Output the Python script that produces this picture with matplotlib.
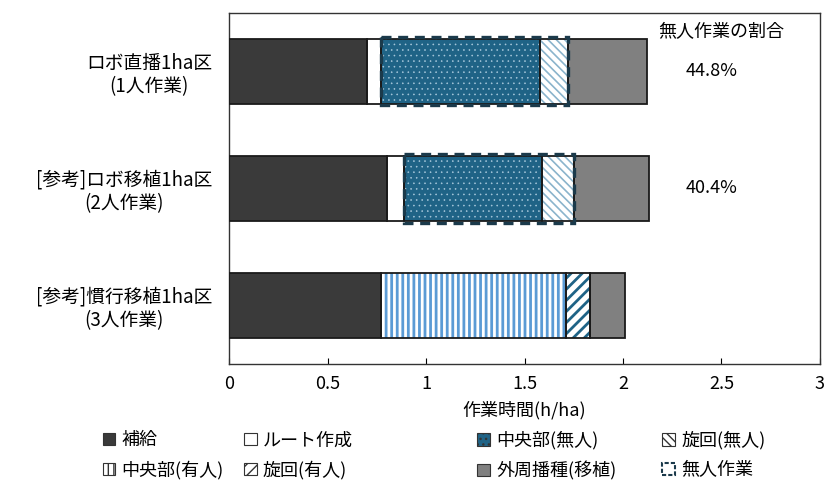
import matplotlib
matplotlib.use("Agg")
import matplotlib.pyplot as plt
from matplotlib.patches import Rectangle, Patch
import numpy as np

plt.rcParams['font.family'] = ['Noto Sans CJK JP', 'DejaVu Sans']

# categories (top to bottom)
categories = ["ロボ直播1ha区\n(1人作業)", "[参考]ロボ移植1ha区\n(2人作業)", "[参考]慣行移植1ha区\n(3人作業)"]

# work time per component (h/ha)
hokyu = [0.70, 0.80, 0.77]            # 補給
route = [0.07, 0.09, 0.00]            # ルート作成
center_unmanned = [0.81, 0.70, 0.00]  # 中央部(無人)
turn_unmanned = [0.14, 0.16, 0.00]    # 旋回(無人)
center_manned = [0.00, 0.00, 0.94]    # 中央部(有人)
turn_manned = [0.00, 0.00, 0.12]      # 旋回(有人)
outer = [0.40, 0.38, 0.18]            # 外周播種(移植)

unmanned_share = ["44.8%", "40.4%", None]

series = [
    ("補給", hokyu, dict(fc="#3a3a3a", hatch=None, hc=None, hlw=1)),
    ("ルート作成", route, dict(fc="white", hatch=None, hc=None, hlw=1)),
    ("中央部(無人)", center_unmanned, dict(fc="#1f6386", hatch="...", hc="#a9c9dc", hlw=0.4)),
    ("旋回(無人)", turn_unmanned, dict(fc="white", hatch="\\\\\\\\", hc="#8ab4cc", hlw=1.2)),
    ("中央部(有人)", center_manned, dict(fc="white", hatch="|||", hc="#5b9bd5", hlw=2.0)),
    ("旋回(有人)", turn_manned, dict(fc="white", hatch="///", hc="#1f6386", hlw=2.0)),
    ("外周播種(移植)", outer, dict(fc="#808080", hatch=None, hc=None, hlw=1)),
]

fig = plt.figure(figsize=(8.27, 4.83), dpi=100)
ax = fig.add_axes([0.277, 0.2464, 0.7145, 0.7276])

y = np.arange(len(categories))
bar_h = 0.555
left = np.zeros(len(categories))
handles = []
for name, vals, st in series:
    vals = np.array(vals)
    if st["hatch"]:
        b = ax.barh(y, vals, left=left, height=bar_h, facecolor=st["fc"],
                    hatch=st["hatch"], edgecolor=st["hc"], linewidth=0)
        for p in b.patches:
            if hasattr(p, "set_hatch_linewidth"):
                p.set_hatch_linewidth(st["hlw"])
    else:
        ax.barh(y, vals, left=left, height=bar_h, facecolor=st["fc"], linewidth=0)
    # outlines
    for yi, l, v in zip(y, left, vals):
        if v > 0:
            ax.add_patch(Rectangle((l, yi - bar_h / 2), v, bar_h, fill=False,
                                   edgecolor="#1a1a1a", linewidth=1.3, zorder=3))
    h = Patch(facecolor=st["fc"], edgecolor="#333333", hatch=st["hatch"], linewidth=0.8)
    handles.append((h, name))
    left = left + vals

# dashed frame around unmanned work
un_start = np.array(hokyu) + np.array(route)
un_width = np.array(center_unmanned) + np.array(turn_unmanned)
for yi, s, w in zip(y, un_start, un_width):
    if w > 0:
        ax.add_patch(Rectangle((s, yi - bar_h / 2 - 0.015), w, bar_h + 0.03, fill=False,
                               edgecolor="#1b3a4b", linewidth=2.4,
                               linestyle=(0, (3, 2)), zorder=4))

# unmanned share text
ax.text(2.50, -0.33, "無人作業の割合", fontsize=13, ha="center", va="center")
for yi, s in zip(y, unmanned_share):
    if s:
        ax.text(2.45, yi, s, fontsize=13, ha="center", va="center")

ax.set_xlim(0, 3)
ax.set_ylim(2.5, -0.5)
ax.set_xticks([0, 0.5, 1, 1.5, 2, 2.5, 3])
ax.set_xticklabels(["0", "0.5", "1", "1.5", "2", "2.5", "3"], fontsize=13)
ax.tick_params(axis="x", direction="in", length=4, pad=8)
ax.set_yticks(y)
ax.set_yticklabels(categories, fontsize=13.5, multialignment="center", linespacing=1.15)
ax.tick_params(axis="y", length=0, pad=12)
for sp in ax.spines.values():
    sp.set_linewidth(1.0)
    sp.set_color("#333333")
ax.set_xlabel("作業時間(h/ha)", fontsize=13, labelpad=6)

# legend: four columns placed individually
dash_handle = Patch(facecolor="none", edgecolor="#1b3a4b", linestyle=(0, (2, 1)), linewidth=1.5)
handles.append((dash_handle, "無人作業"))
col_x = [0.124, 0.295, 0.577, 0.801]
for c in range(4):
    hs = [handles[c][0], handles[c + 4][0]]
    ls = [handles[c][1], handles[c + 4][1]]
    fig.legend(hs, ls, loc="upper left", bbox_to_anchor=(col_x[c], 0.107), frameon=False,
               fontsize=13, handlelength=0.7, handleheight=0.7, handletextpad=0.35,
               labelspacing=0.62, borderaxespad=0, borderpad=0)

fig.savefig("out.png", dpi=100)
